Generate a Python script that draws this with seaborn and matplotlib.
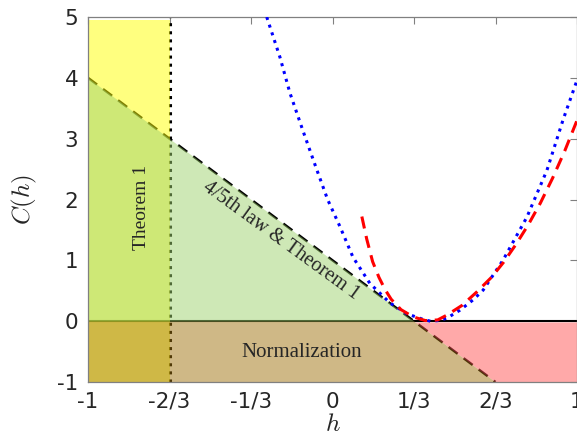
import matplotlib
matplotlib.use("Agg")
import matplotlib.pyplot as plt
import seaborn as sns

# dashed bound C(h) = 1 - 3h, end points
line_h = [-1, 2/3]
line_c = [4, -1]

# shaded regions
thm1_h = [-1, -2/3]
thm1_top = 4.95
green_h = [-1, 1/3]
green_c = [4, 0]
norm_h = [-1, 1/3, 2/3]
norm_c = [0, 0, -1]
red_h = [1/3, 2/3, 1]
red_c = [0, -1, -1]

# blue dotted curve
blue_h = [-0.269, -0.215, -0.174, -0.12, -0.067, -0.02, 0.031, 0.084, 0.153, 0.235,
          0.305, 0.37, 0.40, 0.435, 0.468, 0.521, 0.575, 0.616, 0.697, 0.795, 0.877, 0.943, 1.0]
blue_c = [5.0, 4.34, 3.75, 3.12, 2.52, 2.0, 1.55, 1.05, 0.62, 0.30,
          0.12, 0.03, 0.0, 0.01, 0.05, 0.18, 0.35, 0.51, 1.0, 1.71, 2.48, 3.31, 3.96]

# red dashed curve
red_curve_h = [0.12, 0.14, 0.164, 0.19, 0.215, 0.24, 0.28, 0.33, 0.38, 0.43,
               0.468, 0.53, 0.59, 0.65, 0.70, 0.75, 0.80, 0.85, 0.90, 0.95, 1.0]
red_curve_c = [1.72, 1.35, 0.98, 0.72, 0.52, 0.36, 0.19, 0.07, 0.01, 0.02,
               0.10, 0.26, 0.48, 0.72, 0.97, 1.26, 1.58, 1.94, 2.35, 2.80, 3.30]

xticks = [-1, -2/3, -1/3, 0, 1/3, 2/3, 1]
xticklabels = ["-1", "-2/3", "-1/3", "0", "1/3", "2/3", "1"]
yticks = [-1, 0, 1, 2, 3, 4, 5]
yticklabels = ["-1", "0", "1", "2", "3", "4", "5"]

sns.set_style("white")
plt.rcParams["mathtext.fontset"] = "cm"
plt.rcParams["font.family"] = ["DejaVu Sans"]

fig = plt.figure(figsize=(5.77, 4.41), dpi=100)
ax = fig.add_axes([88/577, 59/441, 489/577, 365/441])

# lines under the shading
ax.plot(line_h, line_c, color="black", lw=1.8, dashes=(4.5, 3), zorder=1)
ax.plot([-2/3, -2/3], [-1, 5], color="black", lw=2.2, ls=":", zorder=1)
ax.plot([-1, 1], [0, 0], color="black", lw=1.5, zorder=1)

ax.fill_between(thm1_h, -1, thm1_top, color="#ffff00", alpha=0.5, lw=0, zorder=2)
ax.fill_between(green_h, 0, green_c, color="#9fd36f", alpha=0.5, lw=0, zorder=2)
ax.fill_between(norm_h, -1, norm_c, color="#a1730f", alpha=0.5, lw=0, zorder=2)
ax.fill_between(red_h, red_c, -0.012, color="#ff5555", alpha=0.5, lw=0, zorder=2)

sns.lineplot(x=blue_h, y=blue_c, ax=ax, color="#0000ff", lw=2.2, ls=":", sort=False, zorder=3)
sns.lineplot(x=red_curve_h, y=red_curve_c, ax=ax, color="#ff0000", lw=2.2,
             dashes=False, sort=False, zorder=3).lines[-1].set_dashes((4, 2.5))

serif = ["Liberation Serif", "DejaVu Serif"]
ax.text(-0.783, 1.87, "Theorem 1", rotation=90, ha="center", va="center",
        fontsize=14, family=serif, zorder=4)
ax.text(-0.211, 1.33, "4/5th law & Theorem 1", rotation=-36, rotation_mode="anchor",
        ha="center", va="center", fontsize=14.5, family=serif, zorder=4)
ax.text(-0.125, -0.51, "Normalization", ha="center", va="center",
        fontsize=15, family=serif, zorder=4)

ax.set_xlim(-1, 1)
ax.set_ylim(-1, 5)
ax.set_xticks(xticks)
ax.set_xticklabels(xticklabels)
ax.set_yticks(yticks)
ax.set_yticklabels(yticklabels)
ax.tick_params(direction="in", length=5, width=0.8, color="#808080",
               top=True, right=True, labelsize=15.5, pad=7)
for s in ax.spines.values():
    s.set_color("#808080")
    s.set_linewidth(0.9)

ax.set_xlabel("$h$", fontsize=18, labelpad=0)
ax.set_ylabel("$C(h)$", fontsize=18, labelpad=13)

fig.savefig("out.png", dpi=100)
